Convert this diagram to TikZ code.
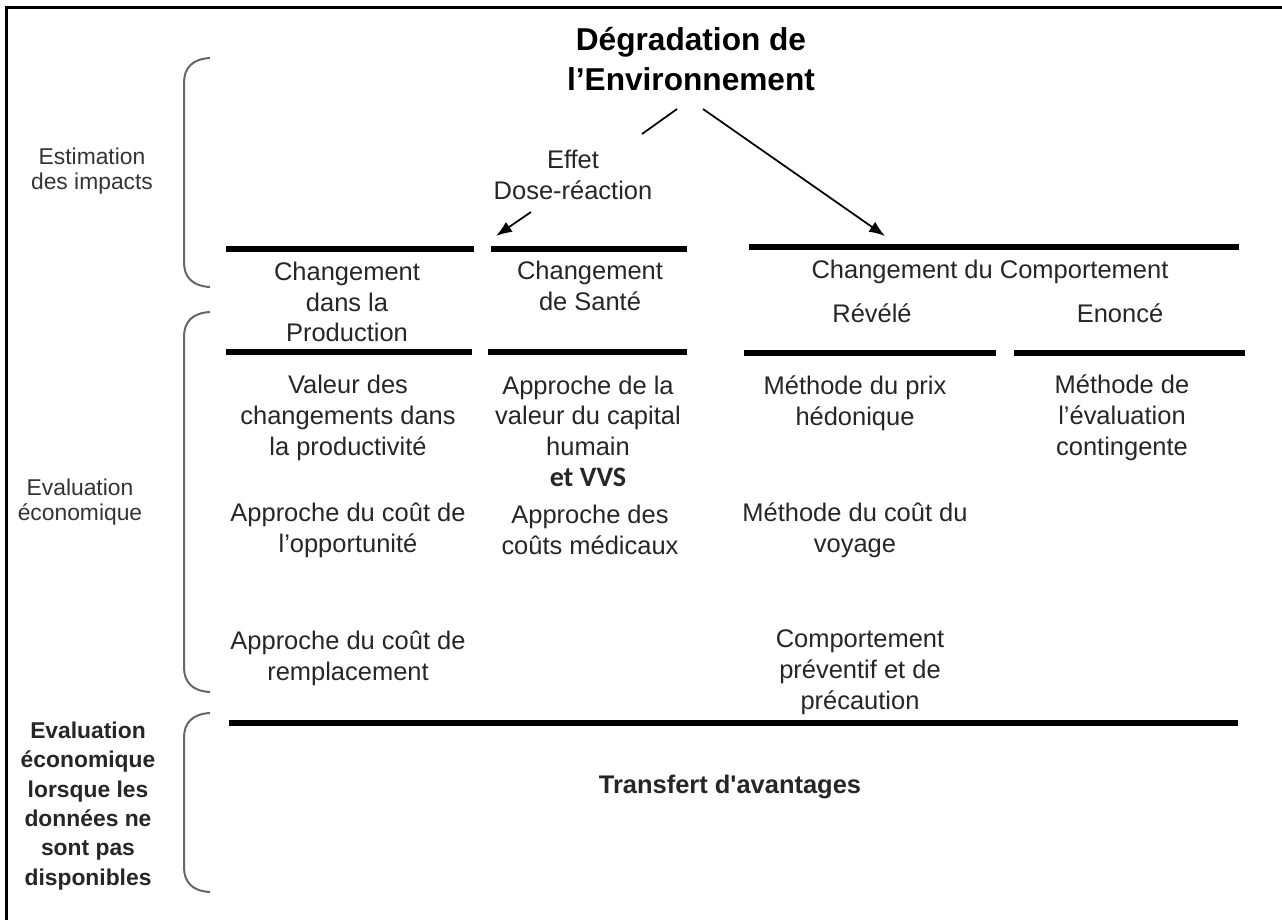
\documentclass[tikz,border=0pt]{standalone}
\usepackage{fontspec}
\setmainfont{Liberation Sans}
\newfontfamily\calibrifont{Carlito}
\usetikzlibrary{arrows.meta}

\begin{document}
\begin{tikzpicture}[x=0.02cm,y=-0.02cm,>={Latex[length=0.32cm,width=0.24cm]},
    titre/.style={font=\fontsize{18}{22.5}\selectfont\bfseries,align=center,inner sep=0pt},
    txt/.style={font=\fontsize{14.5}{17.5}\selectfont,align=center,inner sep=0pt,text=black!85},
    lbl/.style={font=\fontsize{13}{14.5}\selectfont,align=center,inner sep=0pt,text=black!80},
    lblb/.style={font=\fontsize{13}{16.7}\selectfont\bfseries,align=center,inner sep=0pt,text=black!85},
    regle/.style={line width=0.11cm},
    accol/.style={line width=0.04cm,black!60},
    fleche/.style={line width=0.035cm}]
  \useasboundingbox (0,0) rectangle (1282,920);
  \draw[line width=0.054cm] (6.5,920) -- (6.5,7.5) -- (1282,7.5);

  % title and the two branches
  \node[titre] (degr) at (691,59) {Dégradation de\\l'Environnement};
  \node[txt] (effet) at (573,175) {Effet\\Dose-réaction};
  \coordinate (dA) at (677,109);
  \coordinate (dB) at (642,134);
  \coordinate (dC) at (531,212);
  \coordinate (dD) at (496,236);
  \coordinate (dE) at (703,109);
  \coordinate (dF) at (885,236);
  \draw[fleche] (dA) -- (dB);
  \draw[fleche,->] (dC) -- (dD);
  \draw[fleche,->] (dE) -- (dF);

  % left braces and their labels
  \draw[accol] (210,58) .. controls (192,59) and (184,68) .. (184,83) -- (184,262) .. controls (184,277) and (192,286) .. (210,287);
  \draw[accol] (210,312) .. controls (192,313) and (184,322) .. (184,337) -- (184,667) .. controls (184,682) and (192,691) .. (210,692);
  \draw[accol] (210,713) .. controls (192,714) and (184,723) .. (184,738) -- (184,867) .. controls (184,882) and (192,891) .. (210,892);
  \node[lbl] (estim) at (92,171) {Estimation\\des impacts};
  \node[lbl] (evalu) at (80,502) {Evaluation\\économique};
  \node[lblb] (evalnd) at (88,806) {Evaluation\\économique\\lorsque les\\données ne\\sont pas\\disponibles};

  % rules
  \draw[regle] (226,249) -- (474,249);
  \draw[regle] (491,249) -- (687,249);
  \draw[regle] (749,247) -- (1239,247);
  \draw[regle] (226,352) -- (472,352);
  \draw[regle] (488,352) -- (687,352);
  \draw[regle] (744,353) -- (996,353);
  \draw[regle] (1014,353) -- (1245,353);
  \draw[regle] (229,723) -- (1238,723);

  % headers
  \node[txt] (prod) at (347,302) {Changement\\dans la\\Production};
  \node[txt] (sante) at (590,286) {Changement\\de Santé};
  \node[txt] (compt) at (990,272) {Changement du Comportement};
  \node[txt] (revel) at (872,313) {Révélé};
  \node[txt] (enonc) at (1120,313) {Enoncé};

  % methods
  \node[txt] (valeur) at (348,418) {Valeur des\\changements dans\\la productivité};
  \node[txt] (capit) at (588,431) {Approche de la\\valeur du capital\\humain\\{\calibrifont\bfseries\fontsize{16}{17.5}\selectfont et VVS}};
  \node[txt] (hedon) at (855,403) {Méthode du prix\\hédonique};
  \node[txt] (conting) at (1122,418) {Méthode de\\l'évaluation\\contingente};
  \node[txt] (opport) at (348,530) {Approche du coût de\\l'opportunité};
  \node[txt] (medic) at (590,530) {Approche des\\coûts médicaux};
  \node[txt] (voyage) at (855,530) {Méthode du coût du\\voyage};
  \node[txt] (rempl) at (348,658) {Approche du coût de\\remplacement};
  \node[txt] (prevent) at (860,672) {Comportement\\préventif et de\\précaution};

  \node[txt,font=\fontsize{14.5}{17.5}\selectfont\bfseries] (transf) at (730,787) {Transfert d\textquotesingle avantages};
\end{tikzpicture}
\end{document}
